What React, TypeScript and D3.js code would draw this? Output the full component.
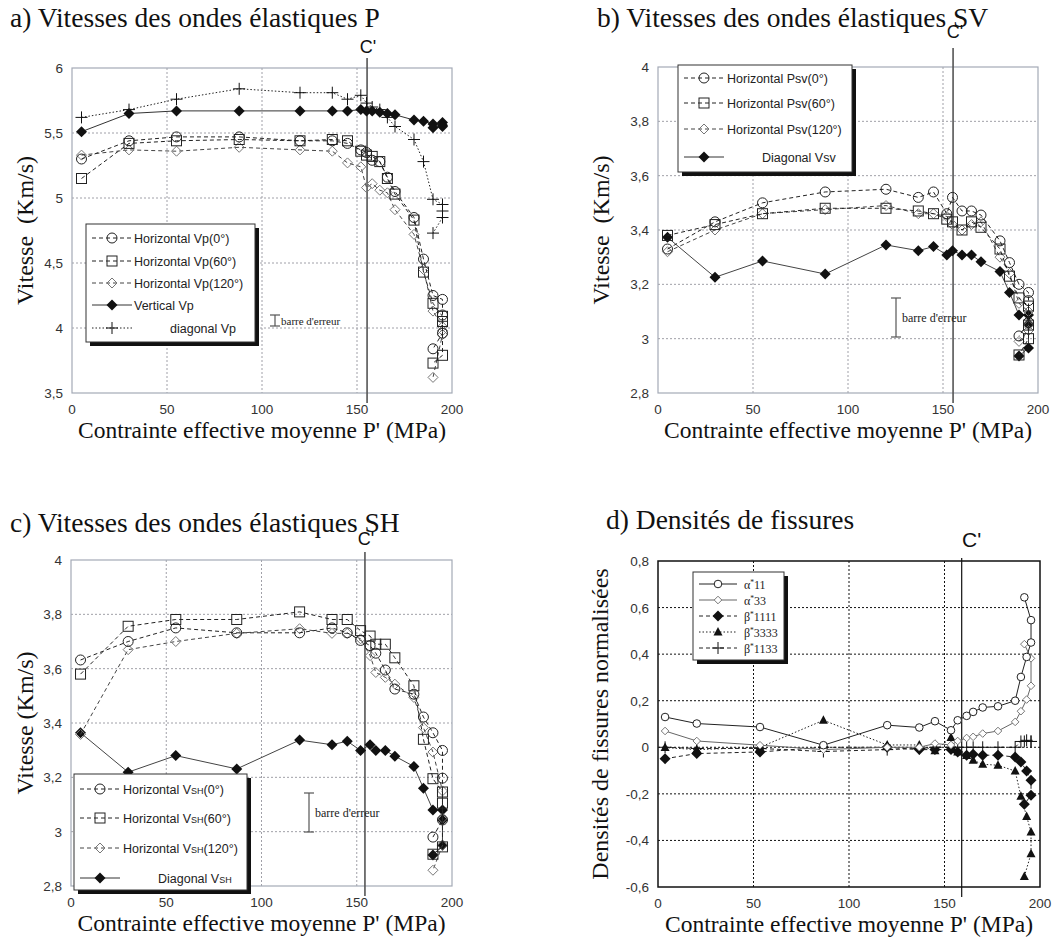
import React from "react";
import * as d3 from "d3";

const SERIF = "'Liberation Serif', 'Times New Roman', serif";
const SANS = "'Liberation Sans', Arial, sans-serif";

// ---- panel a : P waves ----
const aP = [5, 30, 55, 88, 120, 137, 145, 152, 155, 158, 162, 166, 170, 180, 185, 190, 195, 195, 195, 190];
const aVp0 = [5.3, 5.44, 5.47, 5.47, 5.44, 5.44, 5.42, 5.37, 5.35, 5.29, 5.28, 5.16, 5.05, 4.85, 4.53, 4.25, 4.22, 4.1, 3.96, 3.84];
const aVp60 = [5.15, 5.42, 5.44, 5.45, 5.44, 5.45, 5.44, 5.36, 5.33, 5.32, 5.28, 5.15, 5.03, 4.83, 4.43, 4.19, 4.09, 4.05, 3.79, 3.73];
const aVp120 = [5.33, 5.37, 5.36, 5.39, 5.37, 5.36, 5.27, 5.24, 5.08, 5.11, 5.06, 5.04, 4.91, 4.72, 4.45, 4.13, 4.01, 3.98, 3.95, 3.62];
const aVert = [5.51, 5.65, 5.67, 5.67, 5.67, 5.67, 5.67, 5.68, 5.67, 5.67, 5.66, 5.65, 5.64, 5.6, 5.59, 5.57, 5.58, 5.56, 5.55, 5.54];
const aDiag = [5.62, 5.68, 5.76, 5.84, 5.81, 5.81, 5.76, 5.79, 5.73, 5.7, 5.68, 5.62, 5.55, 5.45, 5.28, 4.99, 4.95, 4.9, 4.85, 4.73];
const aTicks = [3.5, 4, 4.5, 5, 5.5, 6];

// ---- panel b : SV waves ----
const bP = [5, 30, 55, 88, 120, 137, 145, 152, 155, 160, 165, 170, 180, 185, 190, 195, 195, 195, 190];
const bPsv0 = [3.33, 3.43, 3.5, 3.54, 3.55, 3.52, 3.54, 3.46, 3.52, 3.47, 3.47, 3.455, 3.36, 3.28, 3.2, 3.17, 3.14, 3.06, 3.01];
const bPsv60 = [3.38, 3.42, 3.46, 3.48, 3.48, 3.47, 3.46, 3.44, 3.43, 3.4, 3.43, 3.41, 3.33, 3.23, 3.15, 3.12, 3.05, 3.0, 2.94];
const bPsv120 = [3.32, 3.4, 3.46, 3.475, 3.49, 3.46, 3.46, 3.45, 3.42, 3.4, 3.42, 3.43, 3.3, 3.24, 3.13, 3.1, 3.05, 3.03, 2.99];
const bDiag = [3.373, 3.226, 3.286, 3.238, 3.345, 3.324, 3.339, 3.308, 3.324, 3.308, 3.308, 3.283, 3.247, 3.17, 3.087, 3.087, 3.054, 2.966, 2.936];
const sTicks = [2.8, 3, 3.2, 3.4, 3.6, 3.8, 4];

// ---- panel c : SH waves ----
const cP = [5, 30, 55, 87, 120, 137, 145, 152, 157, 160, 165, 170, 180, 185, 190, 195, 195, 195, 190];
const cVsh0 = [3.632, 3.7, 3.75, 3.732, 3.732, 3.75, 3.732, 3.704, 3.685, 3.657, 3.595, 3.525, 3.506, 3.422, 3.364, 3.299, 3.197, 3.043, 2.98];
const cVsh60 = [3.58, 3.756, 3.781, 3.781, 3.809, 3.781, 3.781, 3.74, 3.72, 3.69, 3.69, 3.64, 3.537, 3.34, 3.195, 3.146, 3.105, 2.944, 2.917];
const cVsh120 = [3.358, 3.67, 3.7, 3.73, 3.747, 3.73, 3.73, 3.71, 3.648, 3.586, 3.568, 3.543, 3.494, 3.383, 3.293, 3.15, 3.05, 2.95, 2.858];
const cDiag = [3.364, 3.219, 3.28, 3.231, 3.337, 3.32, 3.333, 3.299, 3.32, 3.299, 3.299, 3.278, 3.24, 3.16, 3.08, 3.08, 3.043, 2.95, 2.914];

// ---- panel d : crack densities ----
const dP = [3.7, 20.3, 53.4, 86.6, 120, 136.8, 145, 153.4, 156.9, 161.6, 165, 170, 178, 187, 190, 193, 195.3, 195.3, 191.8];
const dA11 = [0.13, 0.102, 0.087, 0.009, 0.095, 0.085, 0.112, 0.073, 0.116, 0.135, 0.152, 0.171, 0.176, 0.2, 0.302, 0.388, 0.45, 0.546, 0.644];
const dA33 = [0.07, 0.027, 0.009, -0.01, 0.0, 0.0, 0.016, 0.01, 0.027, 0.04, 0.045, 0.059, 0.07, 0.109, 0.155, 0.205, 0.264, 0.382, 0.443];
const dB1111 = [-0.049, -0.027, -0.02, 0.0, 0.0, -0.01, -0.01, -0.01, -0.02, -0.034, -0.03, -0.034, -0.034, -0.042, -0.063, -0.102, -0.142, -0.206, -0.245];
const dB3333 = [-0.001, -0.01, 0.0, 0.116, 0.01, 0.01, -0.015, 0.042, -0.02, -0.035, -0.056, -0.073, -0.077, -0.102, -0.21, -0.297, -0.364, -0.457, -0.555];
const dB1133 = [0.0, -0.005, -0.005, -0.018, -0.01, -0.005, 0.0, 0.0, 0.0, 0.0, 0.0, 0.0, 0.0, 0.0, 0.025, 0.03, 0.025, 0.025, 0.025];
const dTicks = [-0.6, -0.4, -0.2, 0, 0.2, 0.4, 0.6, 0.8];

const xTicks = [0, 50, 100, 150, 200];
const xLabel = "Contrainte effective moyenne P' (MPa)";
const cPrime = { a: 155.3, b: 155.3, c: 154.3, d: 159 };

type Sym = "circle" | "square" | "diamondOpen" | "diamond" | "plus" | "triangle" | "smallCircle" | "smallDiamond";

const fmt = (v: number) => {
  const s = String(+v.toFixed(1));
  return s === "-0" ? "0" : s.replace(".", ",");
};

function Marker({ sym, x, y }: { sym: Sym; x: number; y: number }) {
  switch (sym) {
    case "circle":
      return <circle cx={x} cy={y} r={5} fill="none" stroke="#222" strokeWidth={1} />;
    case "smallCircle":
      return <circle cx={x} cy={y} r={3.8} fill="white" stroke="#222" strokeWidth={1} />;
    case "square":
      return <rect x={x - 5} y={y - 5} width={10} height={10} fill="none" stroke="#222" strokeWidth={1} />;
    case "diamondOpen":
      return <path d={`M${x},${y - 5}L${x + 5},${y}L${x},${y + 5}L${x - 5},${y}Z`} fill="none" stroke="#777" strokeWidth={1} />;
    case "smallDiamond":
      return <path d={`M${x},${y - 3.8}L${x + 3.8},${y}L${x},${y + 3.8}L${x - 3.8},${y}Z`} fill="white" stroke="#777" strokeWidth={1} />;
    case "diamond":
      return <path d={`M${x},${y - 5.5}L${x + 5.5},${y}L${x},${y + 5.5}L${x - 5.5},${y}Z`} fill="#111" />;
    case "triangle":
      return <path d={`M${x},${y - 5}L${x + 4.5},${y + 3.5}L${x - 4.5},${y + 3.5}Z`} fill="#111" />;
    case "plus":
      return <path d={`M${x - 6},${y}H${x + 6}M${x},${y - 6}V${y + 6}`} stroke="#111" strokeWidth={1} />;
  }
}

type Series = { v: number[]; sym: Sym; stroke: string; dash?: string; width?: number };

type LegendItem = { sym: Sym; stroke: string; dash?: string; label: React.ReactNode; y: number; tx: number };

type PanelProps = {
  left: number;
  top: number;
  width: number;
  height: number;
  yDomain: [number, number];
  yTicks: number[];
  p: number[];
  series: Series[];
  black?: boolean;
  cp: number;
  cpLabel: { x: number; y: number; size: number; anchor: string; top: number };
  legend: { x: number; y: number; w: number; h: number; sx: number; items: LegendItem[]; font: string; size: number };
  err?: { x: number; y1: number; y2: number; size: number };
  title: string;
  titleX: number;
  titleY: number;
  yLabel: string;
  yLabelX: number;
};

function Panel(pr: PanelProps) {
  const x = d3.scaleLinear().domain([0, 200]).range([pr.left, pr.left + pr.width]);
  const y = d3.scaleLinear().domain(pr.yDomain).range([pr.top + pr.height, pr.top]);
  const gridColor = pr.black ? "#111" : "#a0a0a8";
  const borderColor = pr.black ? "#111" : "#a4aab6";
  const cx = x(pr.cp);
  const lg = pr.legend;
  return (
    <g>
      <text x={pr.titleX} y={pr.titleY} fontFamily={SERIF} fontSize={27.5} fill="#111">
        {pr.title}
      </text>
      {/* grid */}
      {xTicks.slice(1, -1).map((t) => (
        <line key={"gx" + t} x1={x(t)} x2={x(t)} y1={pr.top} y2={pr.top + pr.height} stroke={gridColor} strokeDasharray="2,2" strokeWidth={1} />
      ))}
      {pr.yTicks.slice(1, -1).map((t) => (
        <line key={"gy" + t} x1={pr.left} x2={pr.left + pr.width} y1={y(t)} y2={y(t)} stroke={gridColor} strokeDasharray="2,2" strokeWidth={1} />
      ))}
      <rect x={pr.left} y={pr.top} width={pr.width} height={pr.height} fill="none" stroke={borderColor} strokeWidth={pr.black ? 1.5 : 1.2} />
      {/* tick labels */}
      {pr.yTicks.map((t) => (
        <text key={"ty" + t} x={pr.left - 9} y={y(t) + 5} textAnchor="end" fontFamily={SANS} fontSize={13.5} fill="#333">
          {fmt(t)}
        </text>
      ))}
      {xTicks.map((t) => (
        <text key={"tx" + t} x={x(t)} y={pr.top + pr.height + 21} textAnchor="middle" fontFamily={SANS} fontSize={13.5} fill="#333">
          {t}
        </text>
      ))}
      <text x={pr.left + pr.width / 2} y={pr.top + pr.height + 45} textAnchor="middle" fontFamily={SERIF} fontSize={23.5} fill="#111">
        {xLabel}
      </text>
      <text
        transform={`translate(${pr.yLabelX},${pr.top + pr.height / 2}) rotate(-90)`}
        textAnchor="middle"
        fontFamily={SERIF}
        fontSize={24}
        fill="#111"
        style={{ whiteSpace: "pre" }}
      >
        {pr.yLabel}
      </text>
      {/* C' line */}
      <line x1={cx} x2={cx} y1={pr.cpLabel.top} y2={pr.top + pr.height + 10} stroke={pr.black ? "#111" : "#555"} strokeWidth={pr.black ? 1.2 : 1.6} />
      <text x={pr.cpLabel.x} y={pr.cpLabel.y} textAnchor={pr.cpLabel.anchor} fontFamily={SANS} fontSize={pr.cpLabel.size} fill="#111">
        C'
      </text>
      {/* series */}
      {pr.series.map((s, i) => {
        const line = d3
          .line<number>()
          .x((_, j) => x(pr.p[j]))
          .y((d) => y(d));
        return (
          <g key={"s" + i}>
            <path d={line(s.v) || ""} fill="none" stroke={s.stroke} strokeWidth={s.width ?? 1} strokeDasharray={s.dash} />
            {s.v.map((d, j) => (
              <Marker key={j} sym={s.sym} x={x(pr.p[j])} y={y(d)} />
            ))}
          </g>
        );
      })}
      {/* error bar */}
      {pr.err && (
        <g stroke="#555" strokeWidth={1.2}>
          <line x1={pr.err.x} x2={pr.err.x} y1={pr.err.y1} y2={pr.err.y2} />
          <line x1={pr.err.x - 5} x2={pr.err.x + 5} y1={pr.err.y1} y2={pr.err.y1} />
          <line x1={pr.err.x - 5} x2={pr.err.x + 5} y1={pr.err.y2} y2={pr.err.y2} />
          <text x={pr.err.x + 6} y={(pr.err.y1 + pr.err.y2) / 2 + 4} fontFamily={SERIF} fontSize={pr.err.size} fill="#222" stroke="none">
            barre d'erreur
          </text>
        </g>
      )}
      {/* legend */}
      <g>
        <rect x={lg.x + 4} y={lg.y + 4} width={lg.w} height={lg.h} fill="#111" />
        <rect x={lg.x} y={lg.y} width={lg.w} height={lg.h} fill="white" stroke="#333" strokeWidth={1} />
        {lg.items.map((it, i) => (
          <g key={"l" + i}>
            <line x1={lg.x + 6} x2={lg.x + 6 + lg.sx} y1={it.y} y2={it.y} stroke={it.stroke} strokeDasharray={it.dash} strokeWidth={1} />
            <Marker sym={it.sym} x={lg.x + 6 + lg.sx / 2} y={it.y} />
            <text x={it.tx} y={it.y + 4.5} fontFamily={lg.font} fontSize={lg.size} fill="#222">
              {it.label}
            </text>
          </g>
        ))}
      </g>
    </g>
  );
}

const DASH = "4,3";
const DOT = "1.5,2";

const sub = (t: string) => <tspan fontSize={9}>{t}</tspan>;

const star = (a: string, n: string) => (
  <>
    {a}
    <tspan fontSize={7.5} dy={-3.5}>
      *
    </tspan>
    <tspan dy={3.5}>{n}</tspan>
  </>
);

export default function App() {
  return (
    <svg width={1052} height={945} style={{ position: "absolute", left: 0, top: 0, background: "white" }}>
      <Panel
        left={72}
        top={68}
        width={380}
        height={325}
        yDomain={[3.5, 6]}
        yTicks={aTicks}
        p={aP}
        cp={cPrime.a}
        cpLabel={{ x: 368, y: 53, size: 18, anchor: "middle", top: 58 }}
        series={[
          { v: aDiag, sym: "plus", stroke: "#222", dash: DOT },
          { v: aVert, sym: "diamond", stroke: "#333" },
          { v: aVp120, sym: "diamondOpen", stroke: "#444", dash: DASH },
          { v: aVp60, sym: "square", stroke: "#222", dash: DASH },
          { v: aVp0, sym: "circle", stroke: "#222", dash: DASH },
        ]}
        legend={{
          x: 86,
          y: 224,
          w: 169,
          h: 118,
          sx: 40,
          font: SANS,
          size: 12.5,
          items: [
            { sym: "circle", stroke: "#222", dash: DASH, label: "Horizontal Vp(0°)", y: 238, tx: 134 },
            { sym: "square", stroke: "#222", dash: DASH, label: "Horizontal Vp(60°)", y: 261, tx: 134 },
            { sym: "diamondOpen", stroke: "#444", dash: DASH, label: "Horizontal Vp(120°)", y: 283, tx: 134 },
            { sym: "diamond", stroke: "#333", label: "Vertical Vp", y: 305, tx: 134 },
            { sym: "plus", stroke: "#222", dash: DOT, label: "diagonal Vp", y: 328, tx: 170 },
          ],
        }}
        err={{ x: 275, y1: 315, y2: 326, size: 11 }}
        title="a) Vitesses des ondes élastiques P"
        titleX={10}
        titleY={27}
        yLabel="Vitesse  (Km/s)"
        yLabelX={33}
      />
      <Panel
        left={658}
        top={67}
        width={380}
        height={326}
        yDomain={[2.8, 4]}
        yTicks={sTicks}
        p={bP}
        cp={cPrime.b}
        cpLabel={{ x: 955, y: 38, size: 18, anchor: "middle", top: 48 }}
        series={[
          { v: bDiag, sym: "diamond", stroke: "#444" },
          { v: bPsv120, sym: "diamondOpen", stroke: "#444", dash: DASH },
          { v: bPsv60, sym: "square", stroke: "#222", dash: DASH },
          { v: bPsv0, sym: "circle", stroke: "#222", dash: DASH },
        ]}
        legend={{
          x: 678,
          y: 65,
          w: 174,
          h: 107,
          sx: 40,
          font: SANS,
          size: 12.5,
          items: [
            { sym: "circle", stroke: "#222", dash: DASH, label: "Horizontal Psv(0°)", y: 78, tx: 727 },
            { sym: "square", stroke: "#222", dash: DASH, label: "Horizontal Psv(60°)", y: 103, tx: 727 },
            { sym: "diamondOpen", stroke: "#444", dash: DASH, label: "Horizontal Psv(120°)", y: 129, tx: 727 },
            { sym: "diamond", stroke: "#333", label: "Diagonal Vsv", y: 157, tx: 762 },
          ],
        }}
        err={{ x: 896, y1: 298, y2: 337, size: 12 }}
        title="b) Vitesses des ondes élastiques SV"
        titleX={597}
        titleY={27}
        yLabel="Vitesse  (Km/s)"
        yLabelX={609}
      />
      <Panel
        left={71}
        top={560}
        width={381}
        height={326}
        yDomain={[2.8, 4]}
        yTicks={sTicks}
        p={cP}
        cp={cPrime.c}
        cpLabel={{ x: 366, y: 545, size: 18, anchor: "middle", top: 552 }}
        series={[
          { v: cDiag, sym: "diamond", stroke: "#444" },
          { v: cVsh120, sym: "diamondOpen", stroke: "#444", dash: DASH },
          { v: cVsh60, sym: "square", stroke: "#222", dash: DASH },
          { v: cVsh0, sym: "circle", stroke: "#222", dash: DASH },
        ]}
        legend={{
          x: 74,
          y: 774,
          w: 173,
          h: 116,
          sx: 40,
          font: SANS,
          size: 12.5,
          items: [
            { sym: "circle", stroke: "#222", dash: DASH, label: <>Horizontal V{sub("SH")}(0°)</>, y: 789, tx: 123 },
            { sym: "square", stroke: "#222", dash: DASH, label: <>Horizontal V{sub("SH")}(60°)</>, y: 818, tx: 123 },
            { sym: "diamondOpen", stroke: "#444", dash: DASH, label: <>Horizontal V{sub("SH")}(120°)</>, y: 848, tx: 123 },
            { sym: "diamond", stroke: "#333", label: <>Diagonal V{sub("SH")}</>, y: 878, tx: 158 },
          ],
        }}
        err={{ x: 309, y1: 793, y2: 832, size: 12 }}
        title="c) Vitesses des ondes élastiques SH"
        titleX={10}
        titleY={532}
        yLabel="Vitesse (Km/s)"
        yLabelX={33}
      />
      <Panel
        left={658}
        top={561}
        width={382}
        height={326}
        yDomain={[-0.6, 0.8]}
        yTicks={dTicks}
        p={dP}
        black
        cp={cPrime.d}
        cpLabel={{ x: 962, y: 547, size: 21, anchor: "start", top: 558 }}
        series={[
          { v: dB1133, sym: "plus", stroke: "#222", dash: DASH },
          { v: dB3333, sym: "triangle", stroke: "#222", dash: DOT },
          { v: dB1111, sym: "diamond", stroke: "#222", dash: DASH },
          { v: dA33, sym: "smallDiamond", stroke: "#666" },
          { v: dA11, sym: "smallCircle", stroke: "#222" },
        ]}
        legend={{
          x: 693,
          y: 572,
          w: 91,
          h: 88,
          sx: 38,
          font: SERIF,
          size: 12,
          items: [
            { sym: "smallCircle", stroke: "#222", label: star("α", "11"), y: 584, tx: 744 },
            { sym: "smallDiamond", stroke: "#666", label: star("α", "33"), y: 600, tx: 744 },
            { sym: "diamond", stroke: "#222", dash: DASH, label: star("β", "1111"), y: 616, tx: 744 },
            { sym: "triangle", stroke: "#222", dash: DOT, label: star("β", "3333"), y: 632, tx: 744 },
            { sym: "plus", stroke: "#222", dash: DASH, label: star("β", "1133"), y: 648, tx: 744 },
          ],
        }}
        title="d) Densités de fissures"
        titleX={606}
        titleY={529}
        yLabel="Densités de fissures normalisées"
        yLabelX={608}
      />
    </svg>
  );
}
